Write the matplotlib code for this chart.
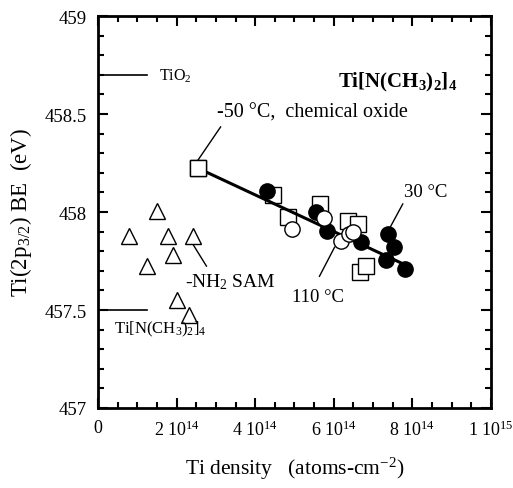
import matplotlib.pyplot as plt
from matplotlib.ticker import MultipleLocator, FixedLocator

plt.rcParams.update({
    "font.family": "serif",
    "font.serif": ["Liberation Serif"],
    "mathtext.fontset": "custom",
    "mathtext.rm": "Liberation Serif",
    "mathtext.it": "Liberation Serif:italic",
    "mathtext.bf": "Liberation Serif:bold",
    "mathtext.default": "rm",
    "font.size": 13.5,
})

# Ti[N(CH3)2]4 on -NH2 SAM
sam_x = [1.51e14, 0.78e14, 1.79e14, 2.42e14, 1.90e14, 1.25e14, 2.00e14, 2.31e14]
sam_y = [458.007, 457.880, 457.876, 457.876, 457.780, 457.726, 457.550, 457.476]

# -50 C, chemical oxide (open squares)
sq_x = [2.54e14, 4.45e14, 4.83e14, 5.65e14, 6.36e14, 6.61e14, 6.68e14, 6.82e14]
sq_y = [458.224, 458.087, 457.976, 458.041, 457.956, 457.939, 457.692, 457.723]

# 30 C (filled circles)
c30_x = [4.30e14, 5.55e14, 5.82e14, 6.70e14, 7.37e14, 7.54e14, 7.32e14, 7.82e14]
c30_y = [458.106, 457.998, 457.905, 457.848, 457.888, 457.820, 457.755, 457.709]

# 110 C (open circles)
c110_x = [4.93e14, 5.74e14, 6.19e14, 6.40e14, 6.48e14]
c110_y = [457.913, 457.969, 457.854, 457.888, 457.898]

# linear fit line
fit_x = [2.54e14, 7.95e14]
fit_y = [458.224, 457.718]

# reference levels
ref_tio2 = 458.7
ref_precursor = 457.5

xticks = [0, 2e14, 4e14, 6e14, 8e14, 1e15]
xtick_labels = ["0", r"2 10$^{14}$", r"4 10$^{14}$", r"6 10$^{14}$", r"8 10$^{14}$", r"1 10$^{15}$"]
yticks = [457, 457.5, 458, 458.5, 459]
ytick_labels = ["457", "457.5", "458", "458.5", "459"]

fig = plt.figure(figsize=(5.13, 4.89), dpi=100)
ax = fig.add_axes([0.191, 0.1636, 0.766, 0.8016])

ax.set_xlim(0, 1e15)
ax.set_ylim(457, 459)

# reference level stubs
ax.plot([0, 1.26e14], [ref_tio2, ref_tio2], color='black', lw=1.2)
ax.plot([0, 1.26e14], [ref_precursor, ref_precursor], color='black', lw=1.2)

ms = 11
ax.plot(sq_x, sq_y, 's', ms=ms, mfc='white', mec='black', mew=1.0, zorder=3)
ax.plot(fit_x, fit_y, color='black', lw=2.2, zorder=4)
# chemical-oxide point sits on top of the start of the line
ax.plot(sq_x[:1], sq_y[:1], 's', ms=ms, mfc='white', mec='black', mew=1.0, zorder=5)
ax.plot(c30_x, c30_y, 'o', ms=ms, mfc='black', mec='black', mew=1.0, zorder=5)
ax.plot(c110_x, c110_y, 'o', ms=ms, mfc='white', mec='black', mew=1.0, zorder=6)
ax.plot(sam_x, sam_y, '^', ms=ms, mfc='white', mec='black', mew=1.0, zorder=3)

# annotations
ax.text(0.1565e15, ref_tio2, r"TiO$_2$", ha='left', va='center', fontsize=11.5)
ax.text(0.042e15, 457.384, r"Ti[N(CH$_3$)$_2$]$_4$", ha='left', va='baseline', fontsize=12)
ax.text(0.612e15, 458.638, r"Ti[N(CH$_\mathbf{3}$)$_\mathbf{2}$]$_\mathbf{4}$",
        ha='left', va='baseline', fontsize=15, fontweight='bold')

ax.text(0.304e15, 458.485, "-50 \u00b0C,  chemical oxide", ha='left', va='baseline', fontsize=14.5)
ax.plot([0.312e15, 0.2535e15], [458.434, 458.262], color='black', lw=1)

ax.text(0.2226e15, 457.622, r"-NH$_2$ SAM", ha='left', va='baseline', fontsize=14)
ax.plot([0.238e15, 0.276e15], [457.847, 457.724], color='black', lw=1)

ax.text(0.494e15, 457.546, "110 \u00b0C", ha='left', va='baseline', fontsize=13.5)
ax.plot([0.602e15, 0.5636e15], [457.82, 457.672], color='black', lw=1)

ax.text(0.778e15, 458.082, "30 \u00b0C", ha='left', va='baseline', fontsize=13.5)
ax.plot([0.7756e15, 0.7435e15], [458.041, 457.922], color='black', lw=1)

# axes styling
ax.xaxis.set_major_locator(FixedLocator(xticks))
ax.set_xticklabels(xtick_labels, fontsize=13)
ax.xaxis.set_minor_locator(MultipleLocator(0.5e14))
ax.yaxis.set_major_locator(FixedLocator(yticks))
ax.set_yticklabels(ytick_labels, fontsize=13.5)
ax.yaxis.set_minor_locator(MultipleLocator(0.1))
ax.tick_params(which='both', direction='in', top=True, right=True, width=1.5)
ax.tick_params(which='major', length=7, pad=8)
ax.tick_params(which='minor', length=4)
for s in ax.spines.values():
    s.set_linewidth(2)

ax.set_xlabel(r"Ti density   (atoms-cm$^{-2}$)", fontsize=15.5, labelpad=12)
ax.set_ylabel(r"Ti(2p$_{3/2}$) BE  (eV)", fontsize=16.5, labelpad=8)

fig.savefig("out.png", dpi=100)
